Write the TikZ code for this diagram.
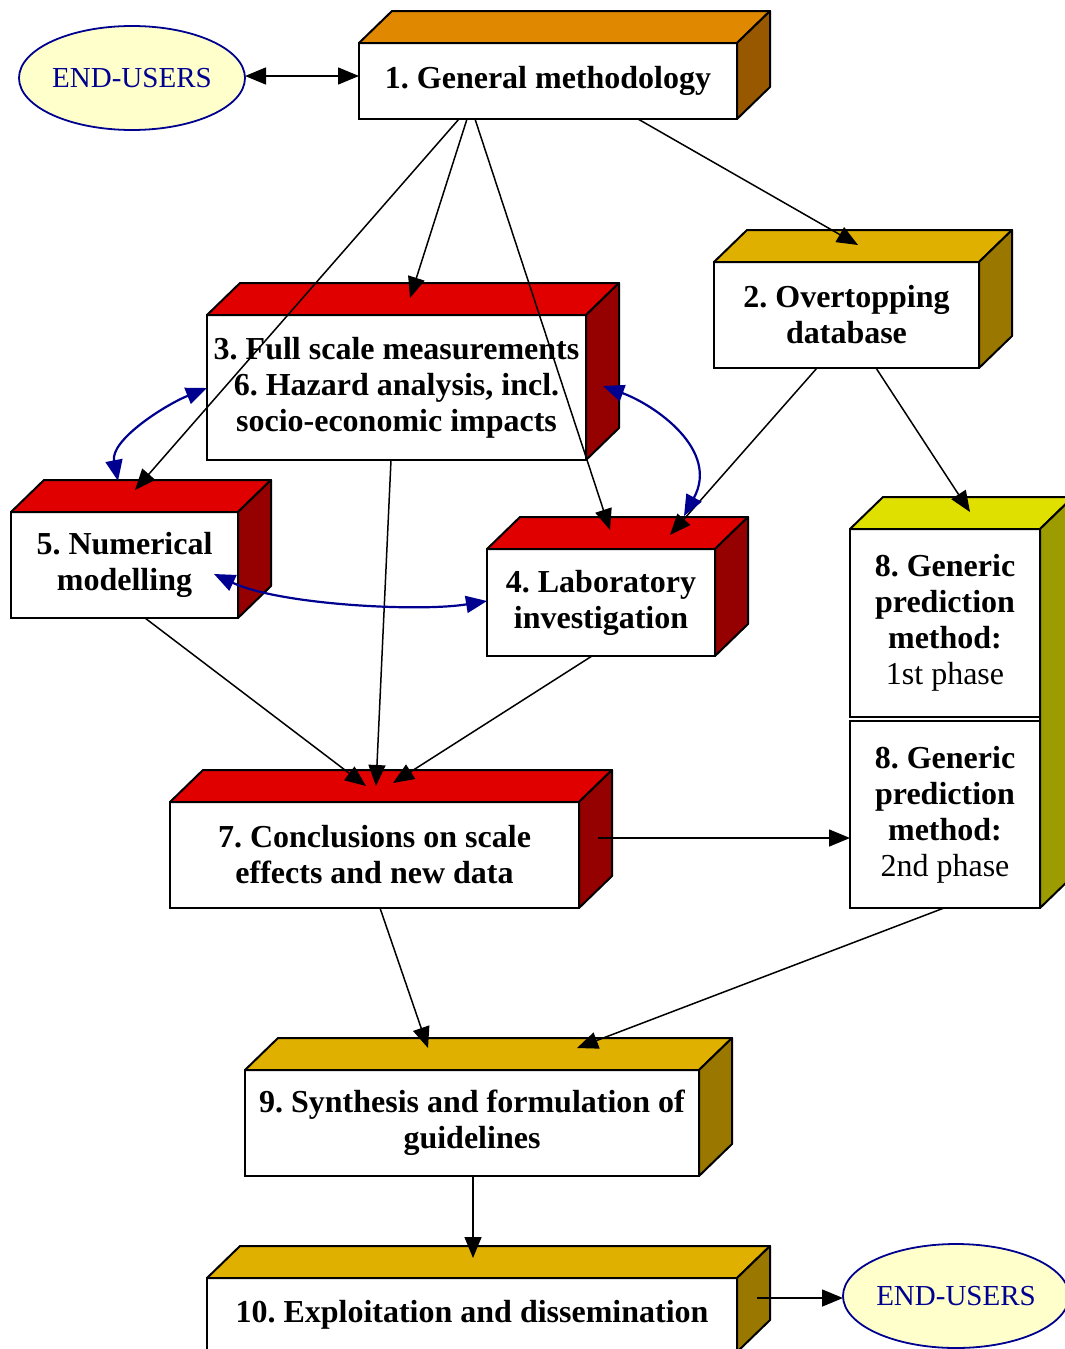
\documentclass[tikz,border=0pt]{standalone}
\usepackage{fontspec}
\setmainfont{Liberation Serif}
\usetikzlibrary{arrows.meta,shapes.geometric}
\frenchspacing
\definecolor{orangeTop}{HTML}{E08800}
\definecolor{orangeSide}{HTML}{985800}
\definecolor{goldTop}{HTML}{DFB000}
\definecolor{goldSide}{HTML}{9A7800}
\definecolor{redTop}{HTML}{E00000}
\definecolor{redSide}{HTML}{950000}
\definecolor{yelTop}{HTML}{E0E000}
\definecolor{yelSide}{HTML}{9C9C00}
\definecolor{euFill}{HTML}{FFFFCC}
\definecolor{navyc}{HTML}{000090}
\tikzset{
  boxfront/.style={draw=black, line width=2pt, fill=white, inner sep=0pt, outer sep=0pt,
    align=center, font=\fontsize{32}{36}\selectfont\bfseries\frenchspacing},
  facestyle/.style={draw=black, line width=2pt, line join=round},
  enduser/.style={ellipse, draw=navyc, line width=1.8pt, fill=euFill, text=navyc,
    minimum width=226pt, minimum height=104pt, inner sep=0pt, outer sep=0pt,
    font=\fontsize{29}{34}\selectfont},
  conn/.style={line width=1.5pt, -{Triangle[length=21pt,width=17pt]}},
  biconn/.style={line width=1.5pt, {Triangle[length=21pt,width=17pt]}-{Triangle[length=21pt,width=17pt]}},
  bluecurve/.style={navyc, line width=2.2pt, {Triangle[length=21pt,width=17pt]}-{Triangle[length=21pt,width=17pt]}},
}
\newcommand\mycuboid[8]{%
  \node[boxfront, minimum width={#4-#2}, minimum height={#5-#3}] (#1) at ({(#2+#4)/2},{(#3+#5)/2}) {#8};
  \filldraw[facestyle, fill=#6] (#1.north west) -- ++(33,-32) -- ++({#4-#2},0) -- (#1.north east) -- cycle;
  \filldraw[facestyle, fill=#7] (#1.north east) -- ++(33,-32) -- ++(0,{#5-#3}) -- (#1.south east) -- cycle;
}
\begin{document}
\begin{tikzpicture}[x=1pt,y=-1pt]
\clip (0,0) rectangle (1065,1349);
\fill[white] (0,0) rectangle (1065,1349);

% end users
\node[enduser] (eu1) at (132,78) {END-USERS};
\node[enduser] (eu2) at (956,1296) {END-USERS};

% boxes
\mycuboid{b1}{359}{43}{737}{119}{orangeTop}{orangeSide}{1. General methodology}
\mycuboid{b2}{714}{262}{979}{368}{goldTop}{goldSide}{2. Overtopping\\database}
\mycuboid{b3}{207}{315}{586}{460}{redTop}{redSide}{3. Full scale measurements\\6. Hazard analysis, incl.\\socio-economic impacts}
\mycuboid{b5}{11}{512}{238}{618}{redTop}{redSide}{5. Numerical\\modelling}
\mycuboid{b4}{487}{549}{715}{656}{redTop}{redSide}{4. Laboratory\\investigation}
\mycuboid{b7}{170}{802}{579}{908}{redTop}{redSide}{7. Conclusions on scale\\effects and new data}
\mycuboid{b9}{245}{1070}{699}{1176}{goldTop}{goldSide}{9. Synthesis and formulation of\\guidelines}
\mycuboid{b10}{207}{1278}{737}{1352}{goldTop}{goldSide}{10. Exploitation and dissemination}

% box 8 (two sections)
\node[boxfront, minimum width=190, minimum height=188] (b8a) at (945,623) {8. Generic\\prediction\\method:\\{\mdseries 1st phase}};
\node[boxfront, minimum width=190, minimum height=187] (b8b) at (945,814.5) {8. Generic\\prediction\\method:\\{\mdseries 2nd phase}};
\filldraw[facestyle, fill=yelTop] (b8a.north west) -- ++(33,-32) -- ++(190,0) -- (b8a.north east) -- cycle;
\filldraw[facestyle, fill=yelSide] (b8a.north east) -- ++(33,-32) -- ++(0,379) -- (b8b.south east) -- cycle;

% connector end coordinates
\coordinate (b1o3) at (467,119);
\coordinate (b1o5) at (459,119);
\coordinate (b1o4) at (475,119);
\coordinate (b1o2) at (638,119);
\coordinate (b3i) at (410,298);
\coordinate (b5i) at (135,490);
\coordinate (b4i1) at (610,530);
\coordinate (b2i) at (858,245);
\coordinate (b2o4) at (817,368);
\coordinate (b2o8) at (876,368);
\coordinate (b4i2) at (670,535);
\coordinate (b8i) at (970,512);
\coordinate (b3o) at (391,460);
\coordinate (b5o) at (145,618);
\coordinate (b4o) at (592,656);
\coordinate (b7i1) at (376,786);
\coordinate (b7i2) at (366,786);
\coordinate (b7i3) at (393,783);
\coordinate (b7o8) at (598,838);
\coordinate (b7o9) at (380,908);
\coordinate (b8o) at (944,908);
\coordinate (b9i1) at (428,1048);
\coordinate (b9i2) at (577,1048);
\coordinate (b9o) at (473,1176);
\coordinate (b10i) at (473,1258);
\coordinate (b10o) at (757,1298);

% black connectors
\draw[biconn] (eu1.east |- 0,76) -- (b1.west |- 0,76);
\draw[conn] (b1o3) -- (b3i);
\draw[conn] (b1o5) -- (b5i);
\draw[conn] (b1o4) -- (b4i1);
\draw[conn] (b1o2) -- (b2i);
\draw[conn] (b2o4) -- (b4i2);
\draw[conn] (b2o8) -- (b8i);
\draw[conn] (b3o) -- (b7i1);
\draw[conn] (b5o) -- (b7i2);
\draw[conn] (b4o) -- (b7i3);
\draw[conn] (b7o8) -- (b7o8 -| b8b.west);
\draw[conn] (b7o9) -- (b9i1);
\draw[conn] (b8o) -- (b9i2);
\draw[conn] (b9o) -- (b10i);
\draw[conn] (b10o) -- (b10o -| eu2.west);

% blue curves
\coordinate (c1a) at (207,388);
\coordinate (c1b) at (118,481);
\coordinate (c2a) at (603,386);
\coordinate (c2b) at (684,516);
\coordinate (c3a) at (214,574);
\coordinate (c3b) at (487,601);
\draw[bluecurve] (c1a) .. controls (165,405) and (110,440) .. (c1b);
\draw[bluecurve] (c2a) .. controls (655,405) and (720,450) .. (c2b);
\draw[bluecurve] (c3a) .. controls (280,605) and (420,612) .. (c3b);
\end{tikzpicture}
\end{document}
